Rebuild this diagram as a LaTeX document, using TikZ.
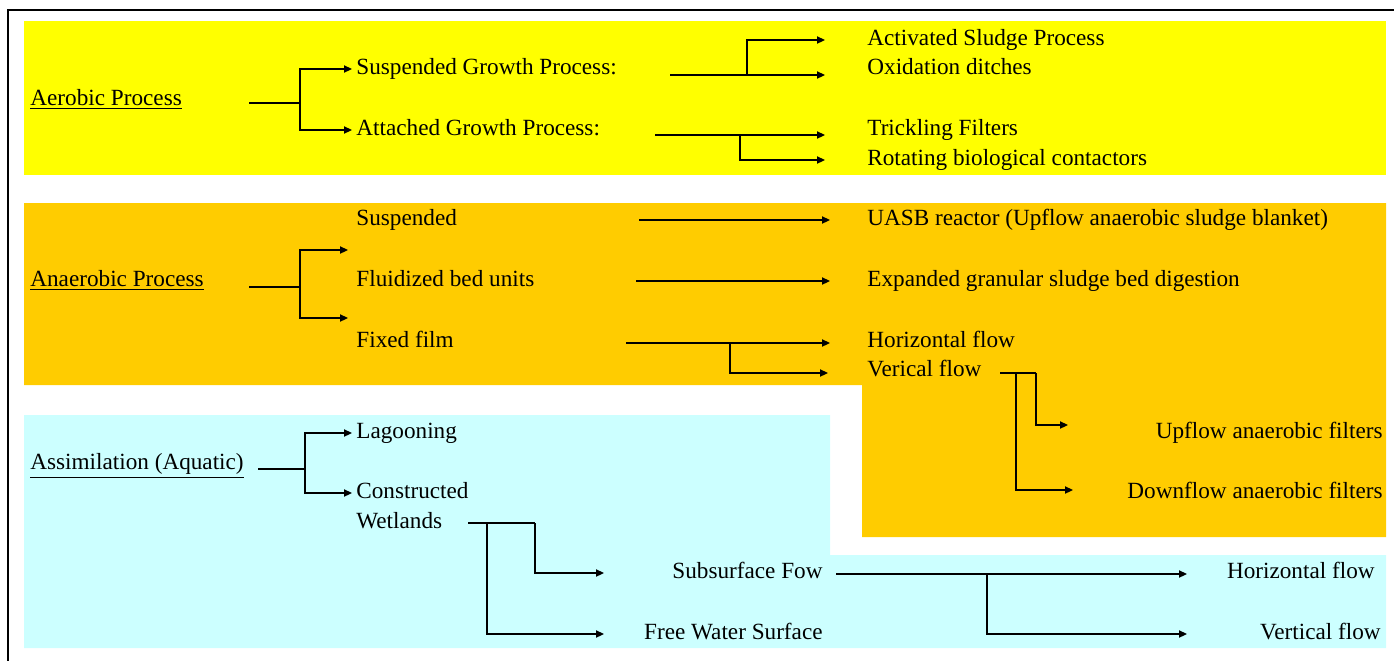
\documentclass[tikz,border=0pt]{standalone}
\usepackage{fontspec}
\setmainfont{Liberation Serif}
\usetikzlibrary{arrows.meta}
\definecolor{aerobicbg}{HTML}{FFFF00}
\definecolor{anaerobicbg}{HTML}{FFCC00}
\definecolor{aquaticbg}{HTML}{CCFFFF}
\begin{document}
\begin{tikzpicture}[
    x=0.5pt, y=-0.5pt,
    every node/.style={inner sep=0pt, text height=1.6ex, text depth=.4ex,
        yshift=-1pt, font=\fontsize{11.6pt}{14pt}\selectfont},
    lbl/.style={anchor=west},
    rlbl/.style={anchor=east},
    link/.style={line width=0.7pt},
    arr/.style={link, -{Triangle[length=4pt,width=3.6pt]}},
    gap/.style={shorten >=2pt}]
  \useasboundingbox (0,0) rectangle (1394,660);
  \fill[aerobicbg] (24,21) rectangle (1386,175);
  \fill[anaerobicbg] (24,203) -- (1386,203) -- (1386,537) -- (862,537)
      -- (862,385) -- (24,385) -- cycle;
  \fill[aquaticbg] (24,415) -- (830,415) -- (830,555) -- (1386,555)
      -- (1386,648) -- (24,648) -- cycle;
  \draw[line width=1pt] (8,662) -- (8,10) -- (1400,10);

  % aerobic
  \node[lbl] (aer) at (30,98) {\underline{Aerobic Process}};
  \node[lbl] (sgp) at (356,67) {Suspended Growth Process:};
  \node[lbl] (agp) at (356,128) {Attached Growth Process:};
  \node[lbl] (asp) at (867,38) {Activated Sludge Process};
  \node[lbl] (oxd) at (867,67) {Oxidation ditches};
  \node[lbl] (trf) at (867,128) {Trickling Filters};
  \node[lbl] (rbc) at (867,158) {Rotating biological contactors};
  \coordinate (aerin) at (249,101);
  \coordinate (aerfork) at (300,101);
  \coordinate (sgpin) at (670,73);
  \coordinate (sgpfork) at (747,73);
  \coordinate (agpin) at (655,133);
  \coordinate (agpfork) at (740,133);
  \coordinate (ytip) at (825,0);
  \draw[link] (aerin) -- (aerfork);
  \draw[arr, gap] (aerfork) |- (sgp.west);
  \draw[arr, gap] (aerfork) |- (agp.west);
  \draw[link] (sgpin) -- (sgpfork);
  \draw[arr] (sgpfork) |- (asp.west -| ytip);
  \draw[arr] (sgpfork) -- (sgpfork -| ytip);
  \draw[link] (agpin) -- (agpfork);
  \draw[arr] (agpfork) -- (agpfork -| ytip);
  \draw[arr] (agpfork) |- (rbc.west -| ytip);

  % anaerobic
  \node[lbl] (ana) at (30,279) {\underline{Anaerobic Process}};
  \node[lbl] (susp) at (356,218) {Suspended};
  \node[lbl] (flb) at (356,279) {Fluidized bed units};
  \node[lbl] (fxf) at (356,340) {Fixed film};
  \node[lbl] (uasb) at (867,218) {UASB reactor (Upflow anaerobic sludge blanket)};
  \node[lbl] (egsb) at (867,279) {Expanded granular sludge bed digestion};
  \node[lbl] (hfl) at (867,340) {Horizontal flow};
  \node[lbl] (vfl) at (867,369) {Verical flow};
  \node[rlbl] (upf) at (1383,431) {Upflow anaerobic filters};
  \node[rlbl] (dnf) at (1383,491) {Downflow anaerobic filters};
  \coordinate (anain) at (249,285);
  \coordinate (anafork) at (300,285);
  \coordinate (uasbin) at (639,0);
  \coordinate (egsbin) at (636,0);
  \coordinate (otip) at (830,0);
  \coordinate (fxfin) at (626,341);
  \coordinate (fxffork) at (730,341);
  \coordinate (vflin) at (1000,371);
  \coordinate (vflfork) at (1016,371);
  \coordinate (vflbend) at (1036,371);
  \draw[link] (anain) -- (anafork);
  \draw[arr, gap] (anafork) |- (352,250);
  \draw[arr, gap] (anafork) |- (352,318);
  \draw[arr] (uasb.west -| uasbin) -- (uasb.west -| otip);
  \draw[arr] (egsb.west -| egsbin) -- (egsb.west -| otip);
  \draw[link] (fxfin) -- (fxffork);
  \draw[arr] (fxffork) -- (fxffork -| otip);
  \draw[arr] (fxffork) |- (828,373);
  \draw[link] (vflin) -- (vflbend);
  \draw[arr] (vflbend) |- (1068,425);
  \draw[arr] (vflfork) |- (1073,490);

  % aquatic
  \node[lbl] (asm) at (30,462) {\underline{Assimilation (Aquatic)}};
  \node[lbl] (lag) at (356,431) {Lagooning};
  \node[lbl] (cnw) at (356,491) {Constructed};
  \node[lbl] (wet) at (356,521) {Wetlands};
  \node[rlbl] (ssf) at (823,571) {Subsurface Fow};
  \node[rlbl] (fws) at (823,632) {Free Water Surface};
  \node[rlbl] (hfw) at (1375,571) {Horizontal flow};
  \node[rlbl] (vfw) at (1381,632) {Vertical flow};
  \coordinate (asmin) at (258,467);
  \coordinate (asmfork) at (305,467);
  \coordinate (wetin) at (468,521);
  \coordinate (wetfork) at (487,521);
  \coordinate (wetbend) at (535,521);
  \coordinate (ctip) at (604,0);
  \coordinate (ssfin) at (836,572);
  \coordinate (ssffork) at (987,572);
  \coordinate (stip) at (1187,0);
  \draw[link] (asmin) -- (asmfork);
  \draw[arr, gap] (asmfork) |- (lag.west);
  \draw[arr, gap] (asmfork) |- (cnw.west);
  \draw[link] (wetin) -- (wetbend);
  \draw[arr] (wetbend) |- (ssf.west -| ctip);
  \draw[arr] (wetfork) |- (fws.west -| ctip);
  \draw[arr] (ssfin) -- (ssfin -| stip);
  \draw[arr] (ssffork) |- (vfw.west -| stip);
\end{tikzpicture}
\end{document}
